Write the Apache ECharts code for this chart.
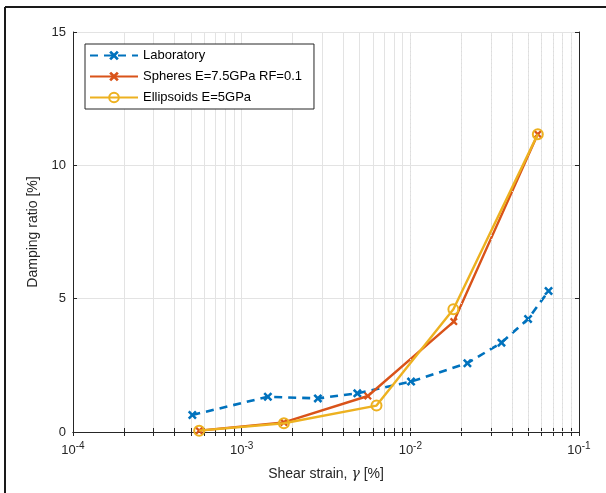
<!DOCTYPE html>
<html>
<head>
  <meta charset="utf-8">
  <script src="https://cdn.jsdelivr.net/npm/echarts@6/dist/echarts.min.js"></script>
</head>
<body style="margin:0;background:#fff">
  <div id="container" style="width:606px;height:493px"></div>
  <script>
    // values (x: shear strain [%], y: damping ratio [%])
    let labStrain = [5.1e-4, 1.43e-3, 2.83e-3, 4.85e-3, 1.01e-2, 2.18e-2, 3.47e-2, 4.99e-2, 6.6e-2];
    let labDamping = [0.64, 1.32, 1.26, 1.45, 1.89, 2.58, 3.35, 4.24, 5.29];
    let sphStrain = [5.6e-4, 1.78e-3, 5.6e-3, 1.81e-2, 5.7e-2];
    let sphDamping = [0.05, 0.36, 1.35, 4.14, 11.17];
    let ellStrain = [5.6e-4, 1.78e-3, 6.3e-3, 1.8e-2, 5.7e-2];
    let ellDamping = [0.05, 0.33, 0.99, 4.6, 11.17];
    let seriesNames = ['Laboratory', 'Spheres E=7.5GPa RF=0.1', 'Ellipsoids E=5GPa'];
    let decades = [1e-4, 1e-3, 1e-2, 1e-1];
    let yTicks = [0, 5, 10, 15];

    let minorTicks = [];
    for (let d = 0; d < decades.length - 1; d++) {
      for (let k = 2; k <= 9; k++) minorTicks.push(k * decades[d]);
    }
    let allTicks = decades.concat(minorTicks);

    function pairs(xs, ys) {
      return xs.map(function (x, i) { return [x, ys[i]]; });
    }

    // bold cross marker (matlab 'x')
    let xMark = 'path://M0,2 L2,0 L5,3 L8,0 L10,2 L7,5 L10,8 L8,10 L5,7 L2,10 L0,8 L3,5 Z';
    let textColor = '#262626';

    let chart = echarts.init(document.getElementById('container'));

    let xBase = {
      type: 'log',
      logBase: 10,
      min: decades[0],
      max: decades[decades.length - 1],
      axisLine: { show: true, lineStyle: { color: '#262626', width: 1 } },
      axisTick: { show: true, inside: true, length: 4, customValues: allTicks, lineStyle: { color: '#262626' } },
      splitLine: { show: false },
      minorTick: { show: false },
      axisLabel: { show: false }
    };

    let option = {
      animation: false,
      grid: { left: 73, right: 27, top: 32, bottom: 61, containLabel: false },
      legend: {
        left: 85, top: 44,
        orient: 'vertical',
        itemWidth: 48, itemHeight: 12, itemGap: 8,
        padding: [5, 12, 5, 4],
        borderColor: '#262626', borderWidth: 1,
        backgroundColor: '#fff',
        textStyle: { fontFamily: 'Liberation Sans', fontSize: 13, color: '#000' },
        data: seriesNames
      },
      xAxis: [
        Object.assign({}, xBase, {
          position: 'bottom',
          name: 'Shear strain, {g|γ} [%]',
          nameLocation: 'middle',
          nameGap: 35,
          nameTextStyle: {
            fontFamily: 'Liberation Sans', fontSize: 14, color: textColor,
            rich: { g: { fontFamily: 'DejaVu Serif', fontStyle: 'italic', fontSize: 14, color: textColor } }
          },
          splitLine: { show: true, lineStyle: { color: '#e3e3e3', width: 1 } },
          axisLabel: {
            show: true, margin: 9,
            customValues: decades,
            fontFamily: 'Liberation Sans', fontSize: 13, color: textColor,
            formatter: function (v) {
              let e = Math.round(Math.log10(v));
              return '10{s|' + e + '}';
            },
            rich: { s: { fontFamily: 'Liberation Sans', fontSize: 10, color: textColor, padding: [0, 0, 9, 0] } }
          }
        }),
        Object.assign({}, xBase, { position: 'top' })
      ],
      yAxis: [
        {
          type: 'value', min: 0, max: 15, interval: 5, position: 'left',
          name: 'Damping ratio [%]', nameLocation: 'middle', nameGap: 32,
          nameTextStyle: { fontFamily: 'Liberation Sans', fontSize: 14, color: textColor },
          axisLine: { show: true, lineStyle: { color: '#262626' } },
          axisTick: { show: true, inside: true, length: 4, lineStyle: { color: '#262626' } },
          splitLine: { show: true, lineStyle: { color: '#e3e3e3' } },
          axisLabel: {
            margin: 7, fontFamily: 'Liberation Sans', fontSize: 13, color: textColor,
            customValues: yTicks
          }
        },
        {
          type: 'value', min: 0, max: 15, interval: 5, position: 'right',
          axisLine: { show: true, lineStyle: { color: '#262626' } },
          axisTick: { show: true, inside: true, length: 4, lineStyle: { color: '#262626' } },
          splitLine: { show: false },
          axisLabel: { show: false }
        }
      ],
      series: [
        {
          name: 'minor grid',
          type: 'line',
          data: [],
          silent: true,
          markLine: {
            silent: true,
            symbol: 'none',
            label: { show: false },
            lineStyle: { color: '#dcdcdc', type: [1, 3], width: 1 },
            data: minorTicks.map(function (v) { return { xAxis: v }; })
          }
        },
        {
          name: seriesNames[0],
          type: 'line',
          data: pairs(labStrain, labDamping),
          symbol: xMark, symbolSize: 9,
          lineStyle: { color: '#0072BD', width: 2.6, type: [8, 6] },
          itemStyle: { color: '#0072BD' },
          z: 3
        },
        {
          name: seriesNames[1],
          type: 'line',
          data: pairs(sphStrain, sphDamping),
          symbol: xMark, symbolSize: 8,
          lineStyle: { color: '#D95319', width: 2.4 },
          itemStyle: { color: '#D95319' },
          z: 4
        },
        {
          name: seriesNames[2],
          type: 'line',
          data: pairs(ellStrain, ellDamping),
          symbol: 'circle', symbolSize: 10,
          lineStyle: { color: '#EDB120', width: 2.4 },
          itemStyle: { color: 'rgba(0,0,0,0)', borderColor: '#EDB120', borderWidth: 2 },
          z: 5
        }
      ],
      graphic: [
        { type: 'line', shape: { x1: 5, y1: 7, x2: 606, y2: 7 }, style: { stroke: '#1a1a1a', lineWidth: 2 } },
        { type: 'line', shape: { x1: 5, y1: 7, x2: 5, y2: 493 }, style: { stroke: '#1a1a1a', lineWidth: 2 } }
      ]
    };

    chart.setOption(option);
  </script>
</body>
</html>
